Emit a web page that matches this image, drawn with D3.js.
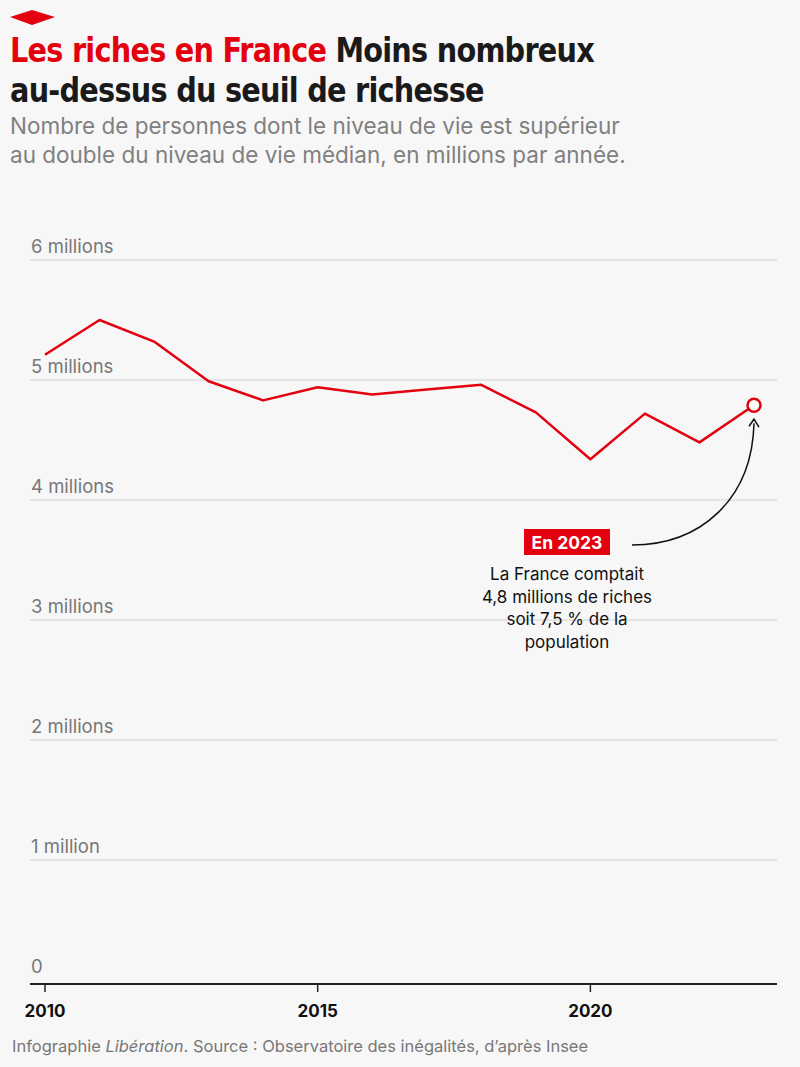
<!DOCTYPE html>
<html><head><meta charset="utf-8">
<script src="https://cdn.jsdelivr.net/npm/d3@7"></script>
<style>
body{margin:0;background:#f7f7f7;}
svg{display:block;}
</style></head><body>
<svg id="c" width="800" height="1067"></svg>
<script>
const years=[2010,2011,2012,2013,2014,2015,2016,2017,2018,2019,2020,2021,2022,2023];
const values=[5.21,5.5,5.32,4.99,4.83,4.94,4.88,4.92,4.96,4.73,4.34,4.72,4.48,4.79];
const yTicks=[0,1,2,3,4,5,6];
const yTickLabels=["0","1 million","2 millions","3 millions","4 millions","5 millions","6 millions"];
const xTicks=[2010,2015,2020];

const svg=d3.select("#c");
const red="#e3000f";
svg.append("rect").attr("width",800).attr("height",1067).attr("fill","#f7f7f7");
svg.append("path").attr("d","M10,17 L32,10 L55,17 L32,25 Z").attr("fill",red);
const tf="'Liberation Sans Narrow','DejaVu Sans Condensed',sans-serif";
const tg=svg.append("g").attr("transform","translate(10,0) scale(0.94,1)");
const t1=tg.append("text").attr("x",0).attr("y",62).attr("font-family",tf).attr("font-weight",700).attr("font-size",34).attr("letter-spacing",-0.8);
t1.append("tspan").attr("fill",red).text("Les riches en France ");
t1.append("tspan").attr("fill","#1a1a1a").text("Moins nombreux");
tg.append("text").attr("x",0).attr("y",102).attr("font-family",tf).attr("font-weight",700).attr("font-size",34).attr("letter-spacing",-0.8).attr("fill","#1a1a1a").text("au-dessus du seuil de richesse");
const sf="Inter,'Noto Sans',sans-serif";
svg.append("text").attr("x",10).attr("y",134).attr("font-family",sf).attr("font-size",22.5).attr("fill","#808080").text("Nombre de personnes dont le niveau de vie est supérieur");
svg.append("text").attr("x",10).attr("y",163).attr("font-family",sf).attr("font-size",22.5).attr("fill","#808080").text("au double du niveau de vie médian, en millions par année.");

const x=d3.scaleLinear().domain([2010,2023]).range([45,754]);
const y=d3.scaleLinear().domain([0,6]).range([980,260]);

yTicks.forEach((t,i)=>{
  if(t>0) svg.append("line").attr("x1",30).attr("x2",777).attr("y1",y(t)).attr("y2",y(t)).attr("stroke","#d2d2d2").attr("stroke-width",1.2);
  svg.append("text").attr("x",31).attr("y",y(t)-7).attr("font-family",sf).attr("font-size",18.5).attr("fill","#777").text(yTickLabels[i]);
});
svg.append("line").attr("x1",30).attr("x2",777).attr("y1",y(0)+4).attr("y2",y(0)+4).attr("stroke","#222").attr("stroke-width",2);
xTicks.forEach(t=>{
  svg.append("line").attr("x1",x(t)).attr("x2",x(t)).attr("y1",y(0)+4).attr("y2",y(0)+12).attr("stroke","#222").attr("stroke-width",1.5);
  svg.append("text").attr("x",x(t)).attr("y",1017).attr("text-anchor","middle").attr("font-family",sf).attr("font-weight",700).attr("font-size",17).attr("fill","#111").text(t);
});

const line=d3.line().x((d,i)=>x(years[i])).y(d=>y(d));
svg.append("path").attr("d",line(values)).attr("fill","none").attr("stroke",red).attr("stroke-width",2.5).attr("stroke-linejoin","round");
const last=values.length-1;
svg.append("circle").attr("cx",x(years[last])).attr("cy",y(values[last])).attr("r",6.5).attr("fill","#fff").attr("stroke",red).attr("stroke-width",2.5);

svg.append("path").attr("d",`M632,545 C700,545 752,500 ${x(years[last])},${y(values[last])+18}`).attr("fill","none").attr("stroke","#111").attr("stroke-width",1.5);
const ax=x(years[last]),ay=y(values[last])+14;
svg.append("path").attr("d",`M${ax-5},${ay+7} L${ax},${ay} L${ax+5},${ay+8}`).attr("fill","none").attr("stroke","#111").attr("stroke-width",1.5);
svg.append("rect").attr("x",524).attr("y",529).attr("width",86).attr("height",26).attr("fill",red);
svg.append("text").attr("x",567).attr("y",549).attr("text-anchor","middle").attr("font-family",sf).attr("font-weight",700).attr("font-size",17.5).attr("fill","#fff").text("En 2023");
["La France comptait","4,8 millions de riches","soit 7,5 % de la","population"].forEach((s,i)=>{
  svg.append("text").attr("x",567).attr("y",580+i*22.5).attr("text-anchor","middle").attr("font-family",sf).attr("font-size",17).attr("fill","#111").text(s);
});
const ft=svg.append("text").attr("x",12).attr("y",1052).attr("font-family",sf).attr("font-size",16.5).attr("fill","#777");
ft.append("tspan").text("Infographie ");
ft.append("tspan").attr("font-style","italic").text("Libération");
ft.append("tspan").text(". Source : Observatoire des inégalités, d’après Insee");
</script></body></html>
